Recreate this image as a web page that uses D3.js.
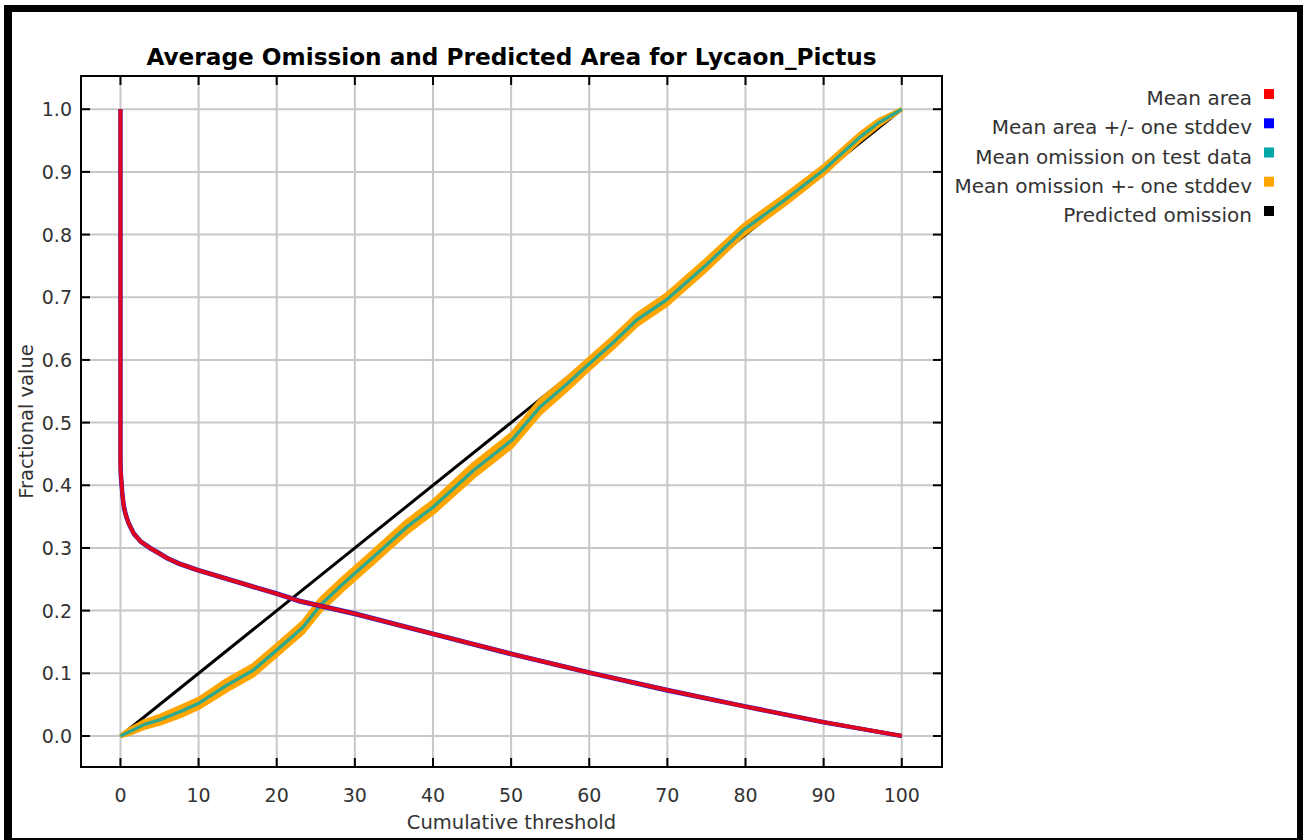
<!DOCTYPE html>
<html>
<head>
<meta charset="utf-8">
<script src="https://cdn.jsdelivr.net/npm/d3@7"></script>
<style>
  body { margin: 0; background: #fff; }
  svg { display: block; }
</style>
</head>
<body>
<div id="chart"></div>
<script>
// Mean area (fraction of area predicted present) vs cumulative threshold
const areaThresh = [0, 0, 0.1, 0.25, 0.43, 0.7, 1.06, 1.7, 2.6, 3.84, 5, 6, 7.5, 9.8, 13, 16.2, 20, 23, 30, 40, 50, 60, 70, 80, 90, 100];
const areaMean   = [1.0, 0.43, 0.41, 0.385, 0.366, 0.352, 0.339, 0.323, 0.31, 0.2995, 0.291, 0.2835, 0.275, 0.265, 0.253, 0.241, 0.227, 0.215, 0.195, 0.163, 0.131, 0.101, 0.073, 0.047, 0.022, 0.0];
const areaStd    = [0, 0.012, 0.006, 0.004, 0.003, 0.002, 0.0015, 0.001, 0.0008, 0.0008, 0.0008, 0.0008, 0.0008, 0.0008, 0.0008, 0.0008, 0.0008, 0.0008, 0.0008, 0.0008, 0.0008, 0.0008, 0.0008, 0.0006, 0.0005, 0];

// Mean omission on test data
const omThresh = [0, 1, 2, 3, 5.1, 7.7, 10, 13.6, 17, 20, 23.4, 25.6, 28.6, 32.4, 36.7, 40.1, 45.2, 50.1, 53.7, 57, 60.1, 63, 66.1, 69.9, 75, 79.7, 85, 90, 94.7, 97, 100];
const omMean   = [0, 0.006, 0.012, 0.018, 0.026, 0.039, 0.052, 0.081, 0.105, 0.137, 0.174, 0.209, 0.244, 0.286, 0.334, 0.366, 0.424, 0.472, 0.525, 0.56, 0.595, 0.627, 0.664, 0.696, 0.752, 0.807, 0.855, 0.903, 0.956, 0.978, 1.0];
const omStd    = [0, 0.003, 0.004, 0.005, 0.006, 0.007, 0.007, 0.008, 0.008, 0.008, 0.008, 0.009, 0.009, 0.009, 0.009, 0.009, 0.01, 0.01, 0.01, 0.009, 0.008, 0.008, 0.008, 0.008, 0.008, 0.007, 0.007, 0.006, 0.005, 0.004, 0];

// Predicted omission
const predThresh = [0, 100];
const predOmission = [0, 1];

const xTicks = [0, 10, 20, 30, 40, 50, 60, 70, 80, 90, 100];
const yTicks = [0.0, 0.1, 0.2, 0.3, 0.4, 0.5, 0.6, 0.7, 0.8, 0.9, 1.0];

const legendLabels = ['Mean area', 'Mean area +/- one stddev', 'Mean omission on test data', 'Mean omission +- one stddev', 'Predicted omission'];
const legendColors = ['#ff0000', '#0000ff', '#00a8a8', '#ffa500', '#000000'];

const width = 1303, height = 840;
const plot = { left: 81, right: 942, top: 76, bottom: 767 };
const font = 'DejaVu Sans, sans-serif';

const svg = d3.select('#chart').append('svg')
  .attr('width', width)
  .attr('height', height);

// frame
svg.append('rect').attr('x', 4).attr('y', 5).attr('width', width - 4).attr('height', height - 5).attr('fill', '#000');
svg.append('rect').attr('x', 12).attr('y', 12).attr('width', 1285).attr('height', 826).attr('fill', '#fff');

const x = d3.scaleLinear().domain([-5.05, 105.15]).range([plot.left, plot.right]);
const y = d3.scaleLinear().domain([-0.0495, 1.053]).range([plot.bottom, plot.top]);

// grid
const grid = svg.append('g').attr('stroke', '#c8c8c8').attr('stroke-width', 2);
grid.selectAll('.gx').data(xTicks).join('line')
  .attr('x1', d => x(d)).attr('x2', d => x(d))
  .attr('y1', plot.top).attr('y2', plot.bottom);
grid.selectAll('.gy').data(yTicks).join('line')
  .attr('x1', plot.left).attr('x2', plot.right)
  .attr('y1', d => y(d)).attr('y2', d => y(d));

svg.append('clipPath').attr('id', 'clip')
  .append('rect').attr('x', plot.left).attr('y', plot.top)
  .attr('width', plot.right - plot.left).attr('height', plot.bottom - plot.top);

const g = svg.append('g').attr('clip-path', 'url(#clip)');

const line = d3.line().x(d => x(d[0])).y(d => y(d[1]));

// predicted omission
g.append('path')
  .attr('d', line(predThresh.map((t, i) => [t, predOmission[i]])))
  .attr('fill', 'none').attr('stroke', '#000').attr('stroke-width', 3);

// omission +- stddev band
const band = d3.area()
  .x((d, i) => x(omThresh[i]))
  .y0((d, i) => y(omMean[i] - omStd[i]))
  .y1((d, i) => y(omMean[i] + omStd[i]));
g.append('path').attr('d', band(omThresh)).attr('fill', '#ffa500');
[-1, 1].forEach(s => {
  g.append('path')
    .attr('d', line(omThresh.map((t, i) => [t, omMean[i] + s * omStd[i]])))
    .attr('fill', 'none').attr('stroke', '#ffa500').attr('stroke-width', 4.5)
    .attr('stroke-linejoin', 'round');
});

// mean omission
g.append('path')
  .attr('d', line(omThresh.map((t, i) => [t, omMean[i]])))
  .attr('fill', 'none').attr('stroke', '#30a88c').attr('stroke-width', 3.4)
  .attr('stroke-linejoin', 'round');

// mean area +/- stddev
[-1, 1].forEach(s => {
  g.append('path')
    .attr('d', line(areaThresh.map((t, i) => [t, areaMean[i] + s * areaStd[i]])))
    .attr('fill', 'none').attr('stroke', '#3020c0').attr('stroke-width', 4)
    .attr('stroke-linejoin', 'round');
});

// mean area
g.append('path')
  .attr('d', line(areaThresh.map((t, i) => [t, areaMean[i]])))
  .attr('fill', 'none').attr('stroke', '#ff0000').attr('stroke-opacity', 0.85)
  .attr('stroke-width', 3.8).attr('stroke-linejoin', 'round');

// plot border
svg.append('rect')
  .attr('x', plot.left).attr('y', plot.top)
  .attr('width', plot.right - plot.left).attr('height', plot.bottom - plot.top)
  .attr('fill', 'none').attr('stroke', '#000').attr('stroke-width', 2);

// inward ticks on all four sides
const ticks = svg.append('g').attr('stroke', '#000').attr('stroke-width', 2);
xTicks.forEach(t => {
  ticks.append('line').attr('x1', x(t)).attr('x2', x(t)).attr('y1', plot.bottom).attr('y2', plot.bottom - 9);
  ticks.append('line').attr('x1', x(t)).attr('x2', x(t)).attr('y1', plot.top).attr('y2', plot.top + 9);
});
yTicks.forEach(t => {
  ticks.append('line').attr('x1', plot.left).attr('x2', plot.left + 9).attr('y1', y(t)).attr('y2', y(t));
  ticks.append('line').attr('x1', plot.right).attr('x2', plot.right - 9).attr('y1', y(t)).attr('y2', y(t));
});

// tick labels
svg.append('g').selectAll('text').data(xTicks).join('text')
  .attr('x', d => x(d)).attr('y', 802)
  .attr('text-anchor', 'middle')
  .attr('font-family', font).attr('font-size', 19).attr('fill', '#333')
  .text(d => d);

svg.append('g').selectAll('text').data(yTicks).join('text')
  .attr('x', 72).attr('y', d => y(d) + 7)
  .attr('text-anchor', 'end')
  .attr('font-family', font).attr('font-size', 19).attr('fill', '#333')
  .text(d => d.toFixed(1));

// title
svg.append('text')
  .attr('x', (plot.left + plot.right) / 2).attr('y', 65)
  .attr('text-anchor', 'middle')
  .attr('font-family', font).attr('font-weight', 'bold').attr('font-size', 23.2)
  .attr('fill', '#000')
  .text('Average Omission and Predicted Area for Lycaon_Pictus');

// axis labels
svg.append('text')
  .attr('x', (plot.left + plot.right) / 2).attr('y', 829)
  .attr('text-anchor', 'middle')
  .attr('font-family', font).attr('font-size', 19.5).attr('fill', '#333')
  .text('Cumulative threshold');

svg.append('text')
  .attr('transform', `translate(33,${(plot.top + plot.bottom) / 2}) rotate(-90)`)
  .attr('text-anchor', 'middle')
  .attr('font-family', font).attr('font-size', 19.5).attr('fill', '#333')
  .text('Fractional value');

// legend
const legendBase = [105, 134.3, 163.5, 192.7, 222];
const legend = svg.append('g');
legendLabels.forEach((lab, i) => {
  legend.append('text')
    .attr('x', 1252).attr('y', legendBase[i])
    .attr('text-anchor', 'end')
    .attr('font-family', font).attr('font-size', 20).attr('fill', '#333')
    .text(lab);
  legend.append('rect')
    .attr('x', 1264).attr('y', legendBase[i] - 16)
    .attr('width', 10).attr('height', 10)
    .attr('fill', legendColors[i]);
});
</script>
</body>
</html>
